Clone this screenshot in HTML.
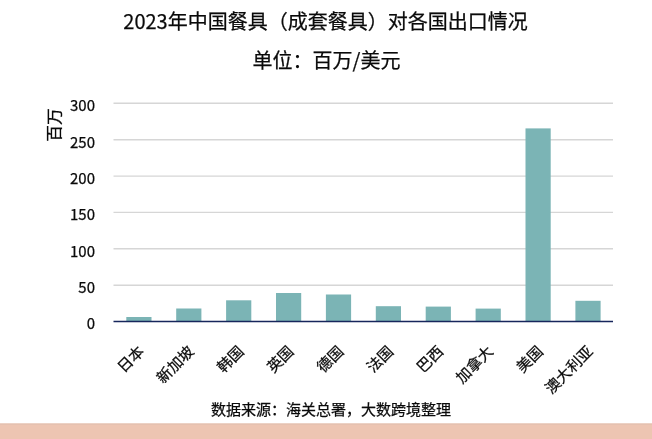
<!DOCTYPE html>
<html lang="zh-CN">
<head>
<meta charset="utf-8">
<title>2023年中国餐具（成套餐具）对各国出口情况</title>
<style>
html,body{margin:0;padding:0;background:#fff;}
body{width:652px;height:439px;overflow:hidden;position:relative;font-family:"Liberation Sans","Noto Sans CJK SC",sans-serif;}
svg{position:absolute;left:0;top:0;display:block;}
svg text{font-family:"Noto Sans CJK SC","Liberation Sans",sans-serif;fill:#0a0a0a;stroke:#0a0a0a;stroke-width:0.25;}
</style>
</head>
<body>
<svg width="652" height="439" viewBox="0 0 652 439">
  <rect x="0" y="0" width="652" height="439" fill="#ffffff"/>
  <rect x="0" y="423.5" width="652" height="16" fill="#edc5b2"/>
  <rect x="0" y="423.5" width="652" height="1.2" fill="#e2bfb0"/>
  <!-- titles -->
  <text x="325.5" y="29.3" font-size="20" text-anchor="middle">2023年中国餐具（成套餐具）对各国出口情况</text>
  <text x="326.5" y="68.4" font-size="20" text-anchor="middle">单位：百万/美元</text>
  <!-- gridlines -->
  <g stroke="#d6d6d6" stroke-width="1.4">
    <line x1="113.5" x2="613" y1="103.3" y2="103.3"/>
    <line x1="113.5" x2="613" y1="139.7" y2="139.7"/>
    <line x1="113.5" x2="613" y1="176.1" y2="176.1"/>
    <line x1="113.5" x2="613" y1="212.4" y2="212.4"/>
    <line x1="113.5" x2="613" y1="248.8" y2="248.8"/>
    <line x1="113.5" x2="613" y1="285.2" y2="285.2"/>
  </g>
  <!-- bars -->
  <g fill="#7bb4b5">
    <rect x="126.3" y="317.0" width="25.2" height="4.5"/>
    <rect x="176.2" y="308.5" width="25.2" height="13"/>
    <rect x="226.1" y="300.3" width="25.2" height="21.2"/>
    <rect x="276.0" y="293.0" width="25.2" height="28.5"/>
    <rect x="325.9" y="294.5" width="25.2" height="27"/>
    <rect x="375.8" y="306.2" width="25.2" height="15.3"/>
    <rect x="425.7" y="306.6" width="25.2" height="14.9"/>
    <rect x="475.6" y="308.6" width="25.2" height="12.9"/>
    <rect x="525.5" y="128.4" width="25.2" height="193.1"/>
    <rect x="575.4" y="300.8" width="25.2" height="20.7"/>
  </g>
  <line x1="113.5" x2="613" y1="321.5" y2="321.5" stroke="#17265c" stroke-width="1.5"/>
  <!-- y ticks -->
  <g font-size="15" text-anchor="end">
    <text x="95" y="111.1">300</text>
    <text x="95" y="147.5">250</text>
    <text x="95" y="183.9">200</text>
    <text x="95" y="220.2">150</text>
    <text x="95" y="256.6">100</text>
    <text x="95" y="293.0">50</text>
    <text x="95" y="329.3">0</text>
  </g>
  <text font-size="15" text-anchor="middle" transform="translate(59.6,124.9) rotate(-90) scale(1.12,1.035)">百万</text>
  <!-- x labels -->
  <g font-size="15" text-anchor="end">
    <text transform="translate(145.0,352.3) rotate(-45)">日本</text>
    <text transform="translate(194.9,352.3) rotate(-45)">新加坡</text>
    <text transform="translate(244.8,352.3) rotate(-45)">韩国</text>
    <text transform="translate(294.6,352.3) rotate(-45)">英国</text>
    <text transform="translate(344.5,352.3) rotate(-45)">德国</text>
    <text transform="translate(394.4,352.3) rotate(-45)">法国</text>
    <text transform="translate(444.3,352.3) rotate(-45)">巴西</text>
    <text transform="translate(494.2,352.3) rotate(-45)">加拿大</text>
    <text transform="translate(544.0,352.3) rotate(-45)">美国</text>
    <text transform="translate(593.9,352.3) rotate(-45)">澳大利亚</text>
  </g>
  <text x="331" y="414.5" font-size="15" text-anchor="middle">数据来源：海关总署，大数跨境整理</text>
</svg>
</body>
</html>
